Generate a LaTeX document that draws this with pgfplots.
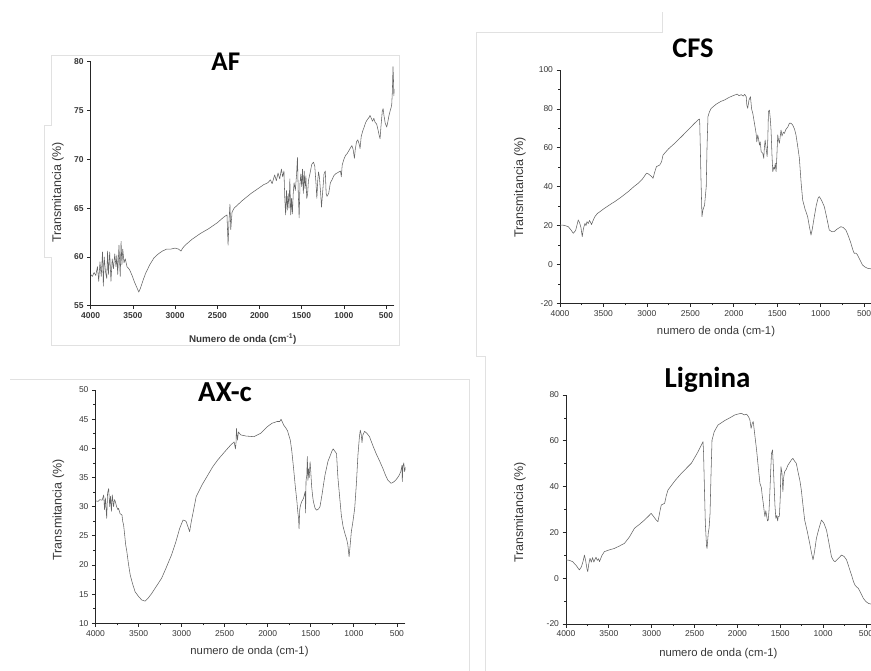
\documentclass[border=0pt]{standalone}
\usepackage{pgfplots}
\pgfplotsset{compat=1.18}
\usepackage{fontspec}
\setmainfont{Liberation Sans}
\newfontfamily\titlefont{Carlito}
\definecolor{curve}{RGB}{100,100,100}
\definecolor{txt}{RGB}{55,55,55}
\definecolor{frame}{RGB}{225,225,225}
\pgfplotsset{
  ftir/.style={
    scale only axis,
    axis x line=bottom, axis y line=left,
    axis line style={-, line width=0.9pt, black!85},
    x dir=reverse, xmin=400, xmax=4000,
    xtick={500,1000,...,4000},
    tick align=outside,
    major tick length=3.5pt, minor tick length=2pt,
    every tick/.style={black!85, line width=0.7pt},
    tick label style={font=\fontsize{8.5}{10}\selectfont, text=txt},
    /pgf/number format/assume math mode=true,
    /pgf/number format/1000 sep={},
    clip=true,
  },
  spec/.style={curve, line width=0.55pt, no marks, line join=round},
}
\begin{document}
\begin{tikzpicture}[x=1pt,y=1pt]
\useasboundingbox (0,0) rectangle (871,-671);
\clip (0,0) rectangle (871,-671);
% panel frames
\draw[frame, line width=0.9pt] (51,-55) -- (399,-55) -- (399,-345) -- (51,-345) -- (51,-257) -- (44.5,-257) -- (44.5,-125) -- (51,-125) -- cycle;
\draw[frame, line width=0.9pt] (662.7,-12) -- (662.7,-32.7) -- (476.7,-32.7) -- (476.7,-356.7) -- (485,-356.7) -- (485,-680);
\draw[frame, line width=0.9pt] (10,-379.3) -- (469.3,-379.3) -- (469.3,-680);

% ---------------- AF ----------------
\begin{axis}[ftir, at={(242.6pt,-183.7pt)}, anchor=center, width=303.8pt, height=244pt,
  ymin=55, ymax=80, ytick={55,60,...,80},
  tick label style={font=\bfseries\fontsize{8.5}{10}\selectfont, text=txt}]
\addplot[spec] coordinates {
(4000,58.2) (3980,58.0) (3960,58.4) (3940,58.1) (3920,59.0) (3905,57.5) (3890,59.5) (3875,58.0) (3860,60.5) (3850,57.0) (3840,60.0) (3825,58.5) (3810,57.8) (3800,60.6) (3790,58.2) (3775,60.5) (3760,57.5) (3745,59.8) (3730,58.8) (3715,60.3) (3700,59.0) (3690,60.2) (3680,58.2) (3665,61.2) (3650,58.0) (3640,61.6) (3630,59.2) (3620,60.8) (3605,59.4) (3590,59.8) (3570,59.0) (3540,58.7) (3510,58.1) (3480,57.4) (3450,56.8) (3430,56.4) (3410,56.8) (3380,57.6) (3350,58.3) (3300,59.2) (3250,59.9) (3200,60.3) (3150,60.6) (3100,60.8) (3050,60.8) (3000,60.9) (2960,60.8) (2930,60.6) (2910,60.9) (2880,61.2) (2800,61.8) (2700,62.4) (2600,62.9) (2500,63.5) (2420,64.1) (2385,64.3) (2372,61.2) (2362,63.5) (2350,65.4) (2340,62.8) (2325,64.6) (2300,65.0) (2200,65.8) (2100,66.5) (2000,67.1) (1950,67.4) (1900,67.6) (1870,67.9) (1850,67.5) (1820,68.4) (1800,67.8) (1780,68.6) (1760,68.0) (1740,69.0) (1725,68.2) (1710,68.8) (1700,66.0) (1690,64.3) (1680,66.8) (1670,64.8) (1660,66.5) (1650,65.0) (1640,68.0) (1630,64.3) (1620,66.0) (1610,64.4) (1600,66.5) (1590,67.6) (1575,66.8) (1560,68.5) (1550,70.2) (1540,66.5) (1530,64.0) (1520,67.5) (1510,68.5) (1500,67.2) (1490,69.0) (1480,66.5) (1470,68.8) (1460,67.0) (1450,68.3) (1440,66.0) (1430,66.4) (1420,67.8) (1400,68.6) (1380,69.5) (1360,69.7) (1345,69.3) (1330,67.5) (1320,66.0) (1310,67.8) (1300,68.7) (1290,68.2) (1275,66.5) (1265,65.1) (1250,66.8) (1235,68.5) (1220,68.8) (1210,66.5) (1200,66.2) (1180,66.5) (1160,67.6) (1140,67.9) (1120,68.3) (1100,68.5) (1080,68.6) (1060,68.7) (1040,68.8) (1030,68.2) (1020,69.4) (1000,70.0) (980,70.4) (960,70.6) (940,70.9) (920,71.2) (905,71.4) (890,71.0) (875,70.1) (865,71.0) (850,71.8) (835,72.0) (820,71.6) (808,71.1) (795,72.3) (780,72.8) (760,73.3) (740,73.8) (720,74.1) (700,74.3) (690,74.5) (675,74.2) (660,73.9) (645,74.2) (630,73.8) (611,73.6) (595,73.0) (580,72.4) (571,72.1) (560,73.4) (545,74.9) (535,75.2) (525,74.5) (510,73.7) (492,73.3) (480,73.8) (465,74.5) (450,75.0) (440,75.3) (433,75.6) (425,77.0) (418,79.5) (413,78.5) (408,76.5) (403,77.2) (400,76.8)
};
\end{axis}
\node[font=\titlefont\bfseries\fontsize{27}{30}\selectfont, anchor=base] at (225.8,-71) {AF};
\node[font=\bfseries\fontsize{9.8}{11}\selectfont, text=txt] at (242.8,-339) {Numero de onda (cm\textsuperscript{-1})};
\node[font=\fontsize{12.5}{14}\selectfont, text=txt, rotate=90] at (58,-192.5) {Transmitancia (\%)};

% ---------------- CFS ----------------
\begin{axis}[ftir, at={(716.4pt,-186.65pt)}, anchor=center, width=312.8pt, height=233.3pt,
  ymin=-20, ymax=100, ytick={-20,0,...,100}, minor x tick num=1, minor y tick num=1]
\addplot[spec] coordinates {
(4000,20.3) (3950,20.1) (3904,19.4) (3870,17.5) (3847,16.0) (3820,17.5) (3800,21.0) (3790,22.9) (3775,21.5) (3759,19.0) (3744,14.3) (3730,18.5) (3713,21.1) (3700,20.0) (3690,22.0) (3675,21.0) (3660,22.6) (3645,21.3) (3637,20.5) (3620,22.5) (3598,24.6) (3570,26.2) (3541,27.1) (3500,28.5) (3450,30.0) (3400,31.5) (3369,32.3) (3300,34.5) (3216,37.4) (3150,40.0) (3101,41.7) (3050,44.0) (3005,46.9) (2985,46.6) (2967,46.0) (2945,45.2) (2929,44.3) (2910,47.5) (2890,50.3) (2852,51.1) (2830,53.0) (2814,56.3) (2750,59.5) (2680,62.3) (2600,65.8) (2527,69.1) (2460,72.2) (2412,74.3) (2393,74.8) (2385,60.0) (2378,45.0) (2366,24.6) (2355,28.0) (2336,30.6) (2325,36.0) (2317,40.0) (2308,60.0) (2297,76.0) (2280,78.5) (2259,80.3) (2200,82.5) (2150,83.8) (2106,84.6) (2050,86.0) (1991,87.1) (1960,87.6) (1940,86.8) (1915,87.3) (1890,86.6) (1875,87.5) (1857,86.3) (1850,82.0) (1840,80.3) (1825,84.5) (1808,86.3) (1795,80.0) (1781,77.7) (1760,72.0) (1743,67.4) (1735,63.0) (1724,66.6) (1715,64.5) (1704,61.4) (1695,63.0) (1685,58.0) (1666,57.1) (1655,54.6) (1648,60.0) (1639,64.0) (1630,60.5) (1616,55.4) (1608,65.0) (1601,78.6) (1590,79.4) (1580,75.0) (1571,69.1) (1560,56.0) (1551,47.7) (1540,50.0) (1532,49.0) (1522,52.0) (1513,47.7) (1505,55.0) (1494,66.6) (1485,64.0) (1475,62.3) (1465,66.0) (1456,69.1) (1445,66.0) (1430,68.0) (1417,67.4) (1400,69.5) (1380,70.5) (1360,72.6) (1340,72.6) (1322,71.7) (1300,69.5) (1284,66.6) (1265,61.0) (1245,54.6) (1225,42.0) (1207,33.1) (1180,28.5) (1150,24.6) (1130,19.5) (1111,15.1) (1095,18.5) (1073,24.6) (1050,30.5) (1030,34.0) (1016,34.9) (990,33.0) (958,29.7) (930,24.0) (901,17.7) (870,16.8) (844,16.9) (810,18.2) (767,19.4) (740,19.0) (710,17.7) (680,14.5) (652,10.9) (630,7.5) (614,5.7) (595,5.8) (576,4.9) (550,2.5) (518,-0.3) (490,-1.3) (461,-2.0) (430,-2.2) (400,-2.5)
};
\end{axis}
\node[font=\titlefont\bfseries\fontsize{28.5}{30}\selectfont, anchor=base] at (693,-58) {CFS};
\node[font=\fontsize{11.3}{13}\selectfont, text=txt] at (716,-331.7) {numero de onda (cm-1)};
\node[font=\fontsize{12.5}{14}\selectfont, text=txt, rotate=90] at (520,-187.5) {Transmitancia (\%)};

% ---------------- AX-c ----------------
\begin{axis}[ftir, at={(250.5pt,-506.65pt)}, anchor=center, width=310pt, height=233.3pt,
  ymin=10, ymax=50, ytick={10,15,...,50}, minor x tick num=1, minor y tick num=1]
\addplot[spec] coordinates {
(4000,31.0) (3970,30.9) (3950,31.2) (3923,31.1) (3905,32.0) (3895,29.5) (3885,31.5) (3870,28.0) (3860,32.3) (3847,33.1) (3835,30.0) (3825,31.8) (3815,29.2) (3805,32.0) (3790,30.0) (3780,31.2) (3770,30.9) (3755,30.0) (3740,29.5) (3732,29.7) (3715,28.8) (3693,28.6) (3684,27.5) (3674,26.9) (3660,25.0) (3650,23.5) (3636,22.3) (3620,20.5) (3610,19.5) (3597,18.3) (3570,16.8) (3540,15.4) (3500,14.6) (3463,14.0) (3425,13.8) (3390,14.3) (3348,15.1) (3300,16.2) (3233,17.7) (3180,19.5) (3118,21.7) (3070,23.8) (3022,26.3) (2984,27.7) (2960,27.6) (2946,27.4) (2925,26.5) (2907,25.7) (2895,26.8) (2888,27.4) (2860,29.5) (2831,31.7) (2760,33.8) (2696,35.4) (2640,36.8) (2581,38.0) (2500,39.4) (2428,40.6) (2390,41.1) (2375,39.9) (2368,41.0) (2363,43.4) (2352,41.4) (2340,42.8) (2313,42.3) (2250,42.1) (2160,42.0) (2080,42.6) (2006,43.7) (1950,44.3) (1891,44.6) (1860,44.6) (1845,45.0) (1815,44.0) (1790,43.5) (1770,43.0) (1738,41.4) (1720,39.5) (1700,36.6) (1680,33.5) (1661,30.9) (1650,29.0) (1642,28.0) (1636,26.2) (1628,29.5) (1620,30.2) (1604,30.9) (1585,31.4) (1565,32.6) (1560,28.9) (1555,34.5) (1546,35.4) (1540,38.6) (1533,34.5) (1527,36.5) (1518,35.0) (1508,37.7) (1500,36.0) (1490,33.5) (1480,32.0) (1470,30.9) (1450,29.7) (1431,29.4) (1410,29.6) (1393,30.0) (1370,32.0) (1350,34.0) (1335,35.4) (1300,37.8) (1278,38.6) (1255,39.5) (1240,39.9) (1220,39.5) (1201,39.1) (1185,35.0) (1163,31.4) (1145,28.5) (1125,26.6) (1100,25.2) (1086,24.6) (1070,23.5) (1055,21.4) (1045,23.0) (1029,25.7) (1010,27.5) (990,29.7) (970,34.0) (952,38.9) (935,42.0) (925,43.1) (915,42.5) (905,41.0) (895,42.3) (875,42.9) (850,42.6) (818,42.0) (780,40.5) (741,39.1) (700,37.8) (664,36.6) (635,35.5) (607,34.6) (580,34.2) (569,34.0) (540,34.2) (511,34.6) (490,35.0) (473,35.4) (455,36.0) (440,37.1) (437,34.3) (430,36.8) (420,37.5) (410,36.0) (400,36.8)
};
\end{axis}
\node[font=\titlefont\bfseries\fontsize{29}{30}\selectfont, anchor=base] at (225,-401) {AX-c};
\node[font=\fontsize{11.3}{13}\selectfont, text=txt] at (249.5,-651.5) {numero de onda (cm-1)};
\node[font=\fontsize{12.5}{14}\selectfont, text=txt, rotate=90] at (58.3,-510) {Transmitancia (\%)};

% ---------------- Lignina ----------------
\begin{axis}[ftir, at={(720.25pt,-509.5pt)}, anchor=center, width=308.5pt, height=229pt,
  ymin=-20, ymax=80, ytick={-20,0,...,80}, minor x tick num=1, minor y tick num=1]
\addplot[spec] coordinates {
(4000,8.0) (3960,7.8) (3922,7.2) (3880,5.5) (3844,3.6) (3820,5.0) (3800,7.5) (3785,10.1) (3770,7.5) (3755,4.0) (3746,2.9) (3735,6.0) (3720,8.7) (3705,7.0) (3690,9.0) (3675,7.0) (3668,7.8) (3650,9.2) (3635,7.8) (3620,8.5) (3610,7.2) (3580,10.0) (3552,11.6) (3500,12.3) (3435,13.0) (3380,14.0) (3318,15.2) (3260,18.0) (3201,21.8) (3140,23.6) (3084,25.4) (3040,27.0) (3006,28.3) (2975,26.8) (2947,25.4) (2927,24.7) (2905,29.0) (2888,32.0) (2849,32.7) (2830,36.0) (2810,38.5) (2730,42.5) (2654,45.8) (2537,50.2) (2470,54.5) (2401,59.6) (2395,55.0) (2385,40.0) (2374,24.0) (2360,14.0) (2354,13.0) (2340,19.6) (2330,22.0) (2319,28.3) (2308,45.0) (2296,60.3) (2270,64.0) (2226,66.9) (2150,68.8) (2080,70.2) (2030,71.3) (1980,71.8) (1952,72.0) (1920,71.3) (1893,71.6) (1870,70.5) (1854,69.1) (1840,65.4) (1828,67.5) (1815,68.4) (1795,62.0) (1776,56.0) (1755,48.0) (1737,41.4) (1720,39.5) (1710,36.0) (1698,32.7) (1685,28.5) (1679,26.9) (1668,29.5) (1660,27.5) (1648,25.0) (1640,25.4) (1630,30.0) (1620,38.5) (1610,48.0) (1602,54.5) (1590,56.0) (1582,50.0) (1574,42.9) (1562,32.0) (1551,26.1) (1540,27.5) (1530,25.0) (1523,26.9) (1510,27.0) (1500,35.0) (1492,48.7) (1480,46.0) (1469,37.8) (1460,44.0) (1449,46.5) (1430,47.5) (1410,49.4) (1390,50.5) (1371,51.6) (1352,52.3) (1330,51.0) (1313,50.2) (1290,46.0) (1270,42.5) (1254,38.5) (1235,32.0) (1215,25.4) (1185,20.5) (1156,15.2) (1135,11.0) (1117,8.0) (1100,11.5) (1078,17.4) (1050,21.5) (1019,25.4) (990,24.0) (960,21.0) (930,15.0) (902,9.4) (880,7.8) (862,7.2) (825,8.5) (785,10.1) (755,9.5) (726,8.0) (700,5.0) (668,1.4) (645,-1.5) (628,-3.0) (610,-3.8) (589,-4.4) (560,-6.5) (530,-8.8) (500,-10.2) (471,-11.0) (432,-11.4) (400,-11.6)
};
\end{axis}
\node[font=\titlefont\bfseries\fontsize{29}{30}\selectfont, anchor=base] at (707.5,-388) {Lignina};
\node[font=\fontsize{11.3}{13}\selectfont, text=txt] at (718.3,-653.3) {numero de onda (cm-1)};
\node[font=\fontsize{12.5}{14}\selectfont, text=txt, rotate=90] at (520,-512.5) {Transmitancia (\%)};
\end{tikzpicture}
\end{document}
